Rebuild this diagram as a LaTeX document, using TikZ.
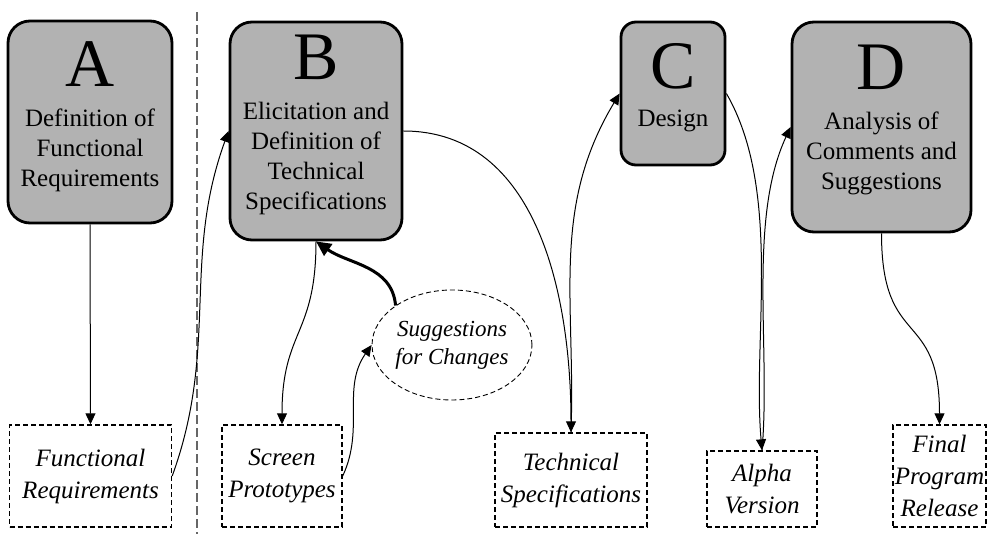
\documentclass[tikz,border=0pt]{standalone}
\usepackage{fontspec}
\setmainfont{Liberation Serif}
\usetikzlibrary{positioning,arrows.meta,shapes.geometric}

\tikzset{
  stage/.style={draw, line width=2.8pt, fill=black!30, rounded corners=22pt},
  stageletter/.style={anchor=base, inner sep=0pt, font=\fontsize{68}{68}\selectfont},
  stagetext/.style={anchor=base, inner sep=0pt, align=center, font=\fontsize{25}{30}\selectfont},
  product/.style={draw, dash pattern=on 5pt off 3pt, line width=1.4pt, inner sep=0pt, align=center, font=\fontsize{25}{32}\selectfont\itshape},
  remark/.style={ellipse, draw, dash pattern=on 5pt off 3pt, line width=0.9pt, minimum width=152pt, minimum height=110pt, inner sep=0pt, align=center, font=\fontsize{23}{28}\selectfont\itshape},
  flow/.style={->, line width=1pt},
  feedback/.style={-{Triangle[length=15pt,width=14pt]}, line width=3pt},
}

\begin{document}
\begin{tikzpicture}[x=1pt, y=1pt, >={Triangle[length=11pt,width=10pt]}]
\useasboundingbox (0,0) rectangle (987,-534);

% separation line
\coordinate (septop) at (197,-12);
\coordinate (sepbot) at (197,-534);
\draw[black!60, line width=1.5pt, dash pattern=on 9pt off 4pt] (septop) -- (sepbot);

% stages
\node[stage, minimum width=164pt, minimum height=202pt] (A) at (90,-122) {};
\node[stage, minimum width=172pt, minimum height=218pt] (B) at (316,-131) {};
\node[stage, minimum width=104pt, minimum height=143pt, rounded corners=15pt] (C) at (673,-93.5) {};
\node[stage, minimum width=179pt, minimum height=210pt] (D) at (881.5,-127) {};

% letters and names (base = last line)
\node[stageletter] (Aid) at (90,-87) {A};
\node[stagetext] (Adesc) at (90,-187) {Definition of\\Functional\\Requirements};
\node[stageletter] (Bid) at (316,-80) {B};
\node[stagetext] (Bdesc) at (316,-210) {Elicitation and\\Definition of\\Technical\\Specifications};
\node[stageletter] (Cid) at (673,-89) {C};
\node[stagetext] (Cdesc) at (673,-127) {Design};
\node[stageletter] (Did) at (881.5,-90) {D};
\node[stagetext] (Ddesc) at (881.5,-190) {Analysis of\\Comments and\\Suggestions};

% products
\node[product, minimum width=162pt, minimum height=102pt] (FR) at (90.5,-476) {Functional\\Requirements};
\node[product, minimum width=120pt, minimum height=102pt] (SP) at (282,-476) {Screen\\Prototypes};
\node[product, minimum width=152pt, minimum height=94pt] (TS) at (571,-480) {Technical\\Specifications};
\node[product, minimum width=110pt, minimum height=76pt] (AV) at (762,-489) {Alpha\\Version};
\node[product, minimum width=93pt, minimum height=102pt] (FPR) at (939.5,-476) {Final\\Program\\Release};

\node[remark] (SC) at (452,-345) {Suggestions\\for Changes};

% flows
\draw[flow] (A.south) -- (FR.north);
\draw[flow] (FR.east) to[out=70, in=250] (B.west);
\draw[flow] (B.south) to[out=-90, in=90, looseness=1.3] (SP.north);
\draw[flow] (SP.east) to[out=65, in=235] (SC.west);
\draw[feedback] (SC.145) to[out=95, in=-35] (B.south);
\draw[flow] (B.east) to[out=0, in=90] (TS.north);
\draw[flow] (TS.north) to[out=88, in=239] (C.west);
\draw[flow] (C.east) to[out=-60, in=95, looseness=0.8] (AV.north);
\draw[flow] (AV.north) to[out=85, in=245, looseness=0.8] (D.west);
\draw[flow] (D.south) to[out=-90, in=90, looseness=1.5] (FPR.north);

\end{tikzpicture}
\end{document}
